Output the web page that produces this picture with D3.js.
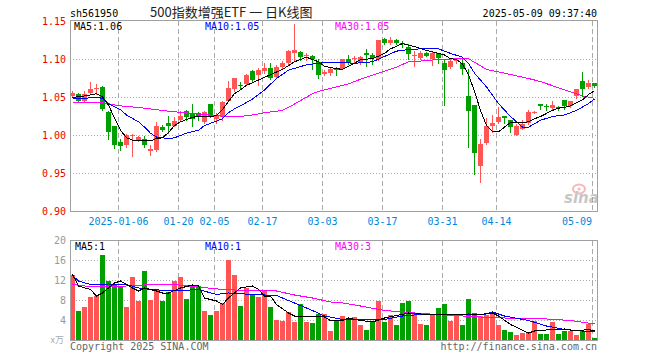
<!DOCTYPE html>
<html>
<head>
<meta charset="utf-8">
<script src="https://cdn.jsdelivr.net/npm/d3@7"></script>
<style>
  body { margin: 0; background: #fff; }
  svg { display: block; }
  text { font-family: "DejaVu Sans Mono", monospace; font-size: 10px; }
</style>
</head>
<body>
<script>
// trading days shown on the chart
const dates = [
  "2024-12-24","2024-12-25","2024-12-26","2024-12-27","2024-12-30","2024-12-31",
  "2025-01-02","2025-01-03","2025-01-06","2025-01-07","2025-01-08","2025-01-09","2025-01-10",
  "2025-01-13","2025-01-14","2025-01-15","2025-01-16","2025-01-17","2025-01-20","2025-01-21",
  "2025-01-22","2025-01-23","2025-01-24","2025-01-27",
  "2025-02-05","2025-02-06","2025-02-07","2025-02-10","2025-02-11","2025-02-12","2025-02-13",
  "2025-02-14","2025-02-17","2025-02-18","2025-02-19","2025-02-20","2025-02-21","2025-02-24",
  "2025-02-25","2025-02-26","2025-02-27","2025-02-28",
  "2025-03-03","2025-03-04","2025-03-05","2025-03-06","2025-03-07","2025-03-10","2025-03-11",
  "2025-03-12","2025-03-13","2025-03-14","2025-03-17","2025-03-18","2025-03-19","2025-03-20",
  "2025-03-21","2025-03-24","2025-03-25","2025-03-26","2025-03-27","2025-03-28","2025-03-31",
  "2025-04-01","2025-04-02","2025-04-03","2025-04-07","2025-04-08","2025-04-09","2025-04-10",
  "2025-04-11","2025-04-14","2025-04-15","2025-04-16","2025-04-17","2025-04-18","2025-04-21",
  "2025-04-22","2025-04-23","2025-04-24","2025-04-25","2025-04-28","2025-04-29","2025-04-30",
  "2025-05-06","2025-05-07","2025-05-08","2025-05-09"
];

const opens = [
  1.052,1.055,1.046,1.056,1.061,1.064,1.031,1.012,0.991,0.987,1.000,0.994,0.996,0.979,0.981,
  1.011,1.016,1.013,1.021,1.032,1.029,1.029,1.018,1.041,1.022,1.025,1.046,1.061,1.067,1.068,
  1.085,1.079,1.085,1.089,1.077,1.090,1.095,1.108,1.110,1.104,1.104,1.097,1.081,1.082,1.088,
  1.088,1.100,1.101,1.096,1.109,1.106,1.100,1.127,1.122,1.126,1.122,1.117,1.105,1.102,1.108,
  1.101,1.108,1.096,1.090,1.098,1.096,1.052,1.040,0.960,0.990,1.013,1.018,1.026,1.020,1.000,
  1.009,1.016,1.030,1.041,1.039,1.036,1.038,1.047,1.039,1.052,1.072,1.064,1.069
];
const highs = [
  1.058,1.056,1.059,1.070,1.068,1.065,1.032,1.012,0.995,1.002,1.002,0.999,0.999,0.987,1.018,
  1.014,1.026,1.024,1.032,1.033,1.042,1.031,1.032,1.042,1.029,1.046,1.072,1.076,1.070,1.081,
  1.086,1.089,1.095,1.096,1.093,1.098,1.112,1.147,1.111,1.108,1.106,1.100,1.086,1.089,1.090,
  1.101,1.106,1.104,1.104,1.114,1.108,1.126,1.128,1.130,1.127,1.124,1.120,1.111,1.111,1.110,
  1.111,1.108,1.099,1.100,1.101,1.100,1.087,1.040,0.996,1.023,1.027,1.037,1.026,1.020,1.015,
  1.020,1.033,1.032,1.042,1.041,1.045,1.039,1.047,1.045,1.061,1.083,1.073,1.069
];
const lows = [
  1.051,1.044,1.045,1.055,1.055,1.034,0.995,0.983,0.981,0.985,0.973,0.993,0.985,0.975,0.980,
  1.006,1.003,1.012,1.020,1.020,1.013,1.020,1.016,1.024,1.017,1.021,1.045,1.059,1.061,1.067,
  1.071,1.066,1.082,1.074,1.076,1.089,1.094,1.098,1.099,1.099,1.087,1.075,1.079,1.080,1.079,
  1.087,1.094,1.096,1.094,1.092,1.094,1.099,1.121,1.121,1.121,1.117,1.100,1.092,1.100,1.104,
  1.093,1.095,1.040,1.089,1.096,1.081,0.985,0.950,0.939,0.989,1.005,1.016,1.016,1.004,1.000,
  1.009,1.015,1.029,1.035,1.033,1.034,1.034,1.035,1.038,1.049,1.052,1.063,1.064
];
const closes = [
  1.056,1.046,1.054,1.061,1.062,1.035,1.004,0.988,0.986,1.000,1.001,0.998,0.988,0.982,1.013,
  1.007,1.013,1.019,1.026,1.025,1.022,1.024,1.031,1.025,1.026,1.044,1.062,1.075,1.066,1.080,
  1.073,1.086,1.089,1.076,1.090,1.096,1.111,1.112,1.103,1.106,1.101,1.080,1.084,1.087,1.087,
  1.100,1.095,1.102,1.103,1.106,1.102,1.125,1.122,1.126,1.122,1.121,1.107,1.106,1.109,1.105,
  1.108,1.102,1.086,1.098,1.099,1.088,1.032,0.977,0.989,1.013,1.017,1.025,1.023,1.011,1.013,
  1.015,1.031,1.031,1.039,1.037,1.040,1.037,1.039,1.045,1.061,1.061,1.069,1.065
];
// volume, x万
const volumes = [
  13.2,6.0,6.7,8.8,8.9,17.2,12.0,11.1,10.9,6.7,12.7,7.9,14.0,8.1,10.2,
  7.9,9.7,11.9,12.7,8.4,11.2,10.9,5.9,5.2,6.0,7.5,16.1,13.2,6.9,10.5,
  9.2,8.7,10.0,6.7,4.1,3.9,5.7,3.7,7.4,3.7,3.5,5.4,5.4,2.0,4.0,
  5.0,4.2,4.8,3.1,2.2,4.0,8.0,3.7,5.2,3.2,7.6,8.0,5.3,3.4,3.2,
  5.2,6.6,7.3,4.0,4.9,3.2,8.4,5.6,4.9,5.2,5.4,3.1,2.2,1.7,1.0,
  1.6,1.6,4.0,1.4,1.3,3.8,1.3,1.9,1.9,1.2,1.9,3.4,0.5
];

// moving averages: [day index, value]
const priceMa5 = [
  [0,1.050],[2,1.052],[4,1.055],[5,1.051],[6,1.040],[7,1.023],[8,1.007],[9,0.997],[10,0.994],
  [12,0.994],[13,0.993],[14,0.996],[15,0.997],[16,1.004],[17,1.013],[18,1.018],[19,1.021],
  [20,1.024],[21,1.025],[23,1.025],[24,1.026],[25,1.034],[26,1.045],[27,1.055],[28,1.060],
  [29,1.066],[31,1.073],[33,1.080],[35,1.087],[37,1.097],[39,1.103],[40,1.100],[41,1.097],
  [42,1.091],[44,1.088],[45,1.087],[47,1.095],[48,1.100],[50,1.101],[52,1.108],[53,1.114],
  [55,1.121],[56,1.119],[57,1.117],[59,1.112],[61,1.108],[62,1.106],[63,1.101],[64,1.100],
  [65,1.094],[66,1.080],[67,1.058],[68,1.033],[69,1.013],[70,1.005],[71,1.005],[72,1.011],
  [73,1.017],[75,1.017],[76,1.018],[77,1.022],[78,1.025],[79,1.029],[80,1.033],[81,1.036],
  [82,1.037],[83,1.039],[84,1.043],[85,1.047],[86,1.054],[87,1.059]
];
const priceMa10 = [
  [0,1.048],[2,1.049],[4,1.050],[5,1.049],[6,1.042],[8,1.034],[9,1.027],[11,1.018],[12,1.011],
  [13,1.003],[14,0.998],[16,0.996],[17,0.997],[18,1.000],[19,1.003],[21,1.007],[22,1.013],
  [23,1.016],[24,1.019],[25,1.022],[26,1.030],[27,1.035],[28,1.039],[30,1.048],[32,1.060],
  [34,1.075],[36,1.086],[39,1.093],[42,1.096],[45,1.096],[47,1.095],[50,1.097],[52,1.104],
  [54,1.111],[56,1.113],[58,1.114],[61,1.114],[63,1.108],[65,1.103],[66,1.095],[67,1.082],
  [69,1.064],[71,1.042],[73,1.025],[75,1.011],[76,1.011],[78,1.020],[80,1.025],[82,1.027],
  [84,1.033],[86,1.042],[87,1.048]
];
const priceMa30 = [
  [0,1.043],[5,1.043],[8,1.039],[12,1.036],[16,1.032],[20,1.029],[24,1.026],[26,1.025],
  [28,1.025],[30,1.027],[32,1.030],[35,1.033],[36,1.037],[38,1.046],[40,1.055],[41,1.058],
  [43,1.062],[46,1.068],[48,1.074],[51,1.082],[54,1.090],[56,1.097],[58,1.098],[61,1.100],
  [64,1.101],[66,1.101],[69,1.087],[72,1.082],[76,1.075],[78,1.071],[82,1.060],[85,1.052],
  [87,1.049]
];
const volMa5 = [
  [0,13.2],[1,10.9],[3,10.2],[4,8.9],[5,9.5],[7,11.5],[8,11.9],[10,10.5],[11,9.9],[12,10.5],
  [14,9.9],[15,9.5],[16,9.5],[18,10.5],[20,11.1],[21,10.9],[22,8.5],[24,7.9],[25,7.2],
  [26,8.5],[28,10.5],[30,10.9],[31,10.2],[32,8.9],[33,8.9],[34,7.2],[36,5.5],[37,4.9],
  [40,4.9],[42,4.7],[43,4.0],[45,4.0],[46,4.5],[48,4.0],[50,3.7],[52,4.5],[56,5.5],[58,5.3],
  [60,5.2],[64,5.2],[66,5.3],[68,5.2],[70,5.5],[71,4.9],[73,3.2],[76,1.5],[77,1.9],[80,2.2],
  [82,2.3],[84,1.9],[86,2.2],[87,1.9]
];
const volMa10 = [
  [0,13.0],[1,11.9],[3,11.2],[6,11.3],[9,11.2],[11,10.5],[13,10.2],[17,9.9],[21,10.2],
  [24,9.2],[26,9.5],[30,9.2],[34,9.0],[37,7.5],[40,6.0],[42,4.9],[45,4.2],[48,4.2],[52,4.2],
  [55,4.9],[58,5.2],[61,5.2],[66,5.2],[69,5.3],[70,5.7],[72,4.9],[76,4.0],[79,2.9],[82,2.2],
  [85,1.9],[87,1.9]
];
const volMa30 = [
  [0,11.2],[2,10.9],[6,10.7],[12,11.1],[17,11.2],[21,10.7],[25,10.2],[29,10.0],[34,9.9],
  [37,9.1],[40,8.5],[43,7.7],[45,7.5],[48,6.9],[52,6.0],[57,5.5],[62,5.1],[68,4.7],[74,4.4],
  [79,4.3],[83,4.0],[87,3.3]
];

const tickDates = ["2025-01-06","2025-01-20","2025-02-05","2025-02-17","2025-03-03",
                   "2025-03-17","2025-03-31","2025-04-14","2025-05-09"];
const priceTicks = [1.15, 1.10, 1.05, 1.00, 0.95, 0.90];
const volTicks = [20, 16, 12, 8, 4];

const RED = "#ff5555", GREEN = "#00a000";
const frameColor = "#a0a0a0";

const svg = d3.select("body").append("svg")
  .attr("width", 660).attr("height", 360);

const x = d3.scaleBand().domain(dates).range([70, 597]).paddingInner(1 / 6).paddingOuter(0);
const yP = d3.scaleLinear().domain([0.90, 1.15]).range([211.5, 21.5]);
const yV = d3.scaleLinear().domain([0, 20]).range([340.5, 240.5]);
const cx = (i) => x(dates[i]) + 2.5;

// grid lines
const grid = svg.append("g").attr("shape-rendering", "crispEdges");
grid.selectAll(".hp").data(priceTicks.slice(1, -1)).enter().append("line")
  .attr("x1", 70).attr("x2", 597)
  .attr("y1", (d) => Math.floor(yP(d)) + 0.5).attr("y2", (d) => Math.floor(yP(d)) + 0.5)
  .attr("stroke", "#aaa").attr("stroke-dasharray", "1,2");
grid.selectAll(".hv").data(volTicks.slice(1)).enter().append("line")
  .attr("x1", 70).attr("x2", 597)
  .attr("y1", (d) => Math.floor(yV(d)) + 0.5).attr("y2", (d) => Math.floor(yV(d)) + 0.5)
  .attr("stroke", "#aaa").attr("stroke-dasharray", "1,2");
[[21, 211], [241, 340]].forEach(([a, b]) => {
  grid.selectAll(null).data(tickDates).enter().append("line")
    .attr("x1", (d) => x(d) + 0.5).attr("x2", (d) => x(d) + 0.5)
    .attr("y1", a).attr("y2", b)
    .attr("stroke", "#aaa").attr("stroke-dasharray", "5,3");
});

// sina watermark
const logo = svg.append("g").attr("opacity", 0.55);
logo.append("ellipse").attr("cx", 579).attr("cy", 189).attr("rx", 6).attr("ry", 4.5)
  .attr("fill", "none").attr("stroke", "#f08080").attr("stroke-width", 2);
logo.append("circle").attr("cx", 579).attr("cy", 189).attr("r", 1.5).attr("fill", "#f08080");
logo.append("text").attr("x", 564).attr("y", 203)
  .style("font-family", "DejaVu Sans").style("font-size", "15px")
  .style("font-style", "italic").style("font-weight", "bold")
  .attr("fill", "#999").text("sina");

// candles
const candles = svg.append("g").attr("shape-rendering", "crispEdges");
const idx = d3.range(dates.length);
const col = (i) => closes[i] >= opens[i] ? RED : GREEN;
candles.selectAll(".wick").data(idx).enter().append("line")
  .attr("x1", cx).attr("x2", cx)
  .attr("y1", (i) => Math.round(yP(highs[i]))).attr("y2", (i) => Math.round(yP(lows[i])) + 1)
  .attr("stroke", col);
candles.selectAll(".body").data(idx).enter().append("rect")
  .attr("x", (i) => x(dates[i]))
  .attr("width", x.bandwidth())
  .attr("y", (i) => Math.round(yP(Math.max(opens[i], closes[i]))))
  .attr("height", (i) => Math.max(1, Math.round(yP(Math.min(opens[i], closes[i]))) - Math.round(yP(Math.max(opens[i], closes[i])))))
  .attr("fill", col);

// volume bars
svg.append("g").attr("shape-rendering", "crispEdges")
  .selectAll("rect").data(idx).enter().append("rect")
  .attr("x", (i) => x(dates[i]))
  .attr("width", x.bandwidth())
  .attr("y", (i) => Math.round(yV(volumes[i])))
  .attr("height", (i) => 340 - Math.round(yV(volumes[i])))
  .attr("fill", col);

// moving average lines
const lineP = d3.line().x((d) => cx(d[0])).y((d) => yP(d[1]));
const lineV = d3.line().x((d) => cx(d[0])).y((d) => yV(d[1]));
const maLines = svg.append("g").attr("fill", "none").attr("shape-rendering", "crispEdges");
[[priceMa30, "#ff00ff"], [priceMa10, "#0000ff"], [priceMa5, "#000"]].forEach(([d, c]) => {
  maLines.append("path").attr("d", lineP(d)).attr("stroke", c);
});
[[volMa30, "#ff00ff"], [volMa10, "#0000ff"], [volMa5, "#000"]].forEach(([d, c]) => {
  maLines.append("path").attr("d", lineV(d)).attr("stroke", c);
});

// frames
const frames = svg.append("g").attr("fill", "none").attr("stroke", frameColor)
  .attr("shape-rendering", "crispEdges");
frames.append("rect").attr("x", 70.5).attr("y", 20.5).attr("width", 527).attr("height", 191);
frames.append("rect").attr("x", 70.5).attr("y", 240.5).attr("width", 527).attr("height", 100);

// axis labels
svg.append("g").selectAll("text").data(priceTicks).enter().append("text")
  .attr("x", 66).attr("y", (d) => yP(d) + 3.5)
  .attr("text-anchor", "end").attr("fill", "#ee0000")
  .text((d) => d.toFixed(2));
svg.append("g").selectAll("text").data(volTicks).enter().append("text")
  .attr("x", 66).attr("y", (d) => yV(d) + 3.5)
  .attr("text-anchor", "end").attr("fill", "#999")
  .text((d) => d);
svg.append("text").attr("x", 64).attr("y", 343).attr("text-anchor", "end")
  .attr("fill", "#aaa").style("font-family", "Noto Sans CJK SC").style("font-size", "9px")
  .text("x万");

svg.append("g").selectAll("text").data(tickDates).enter().append("text")
  .attr("x", (d, i) => i === tickDates.length - 1 ? x(d) : x(d) + 0.5)
  .attr("y", 225)
  .attr("text-anchor", (d, i) => i === tickDates.length - 1 ? "end" : "middle")
  .attr("fill", "#0088dd")
  .text((d, i) => i === 0 ? d : d.slice(5));

// legends
const legend = [
  [74, 30, "#000", "MA5:1.06"], [205, 30, "#0000ff", "MA10:1.05"], [335, 30, "#ff00ff", "MA30:1.05"],
  [75, 250, "#000", "MA5:1"], [205, 250, "#0000ff", "MA10:1"], [335, 250, "#ff00ff", "MA30:3"]
];
svg.append("g").selectAll("text").data(legend).enter().append("text")
  .attr("x", (d) => d[0]).attr("y", (d) => d[1]).attr("fill", (d) => d[2])
  .text((d) => d[3]);

// header and footer
svg.append("text").attr("x", 70).attr("y", 17).attr("fill", "#000").text("sh561950");
svg.append("text").attr("x", 150).attr("y", 17).attr("fill", "#222")
  .style("font-family", "Noto Sans CJK SC").style("font-size", "13px")
  .text("500指数增强ETF 一 日K线图");
svg.append("text").attr("x", 597).attr("y", 17).attr("text-anchor", "end").attr("fill", "#000")
  .text("2025-05-09 09:37:40");
svg.append("text").attr("x", 70).attr("y", 350).attr("fill", "#666").text("Copyright 2025 SINA.COM");
svg.append("text").attr("x", 597).attr("y", 350).attr("text-anchor", "end").attr("fill", "#666")
  .text("http://finance.sina.com.cn");
</script>
</body>
</html>
